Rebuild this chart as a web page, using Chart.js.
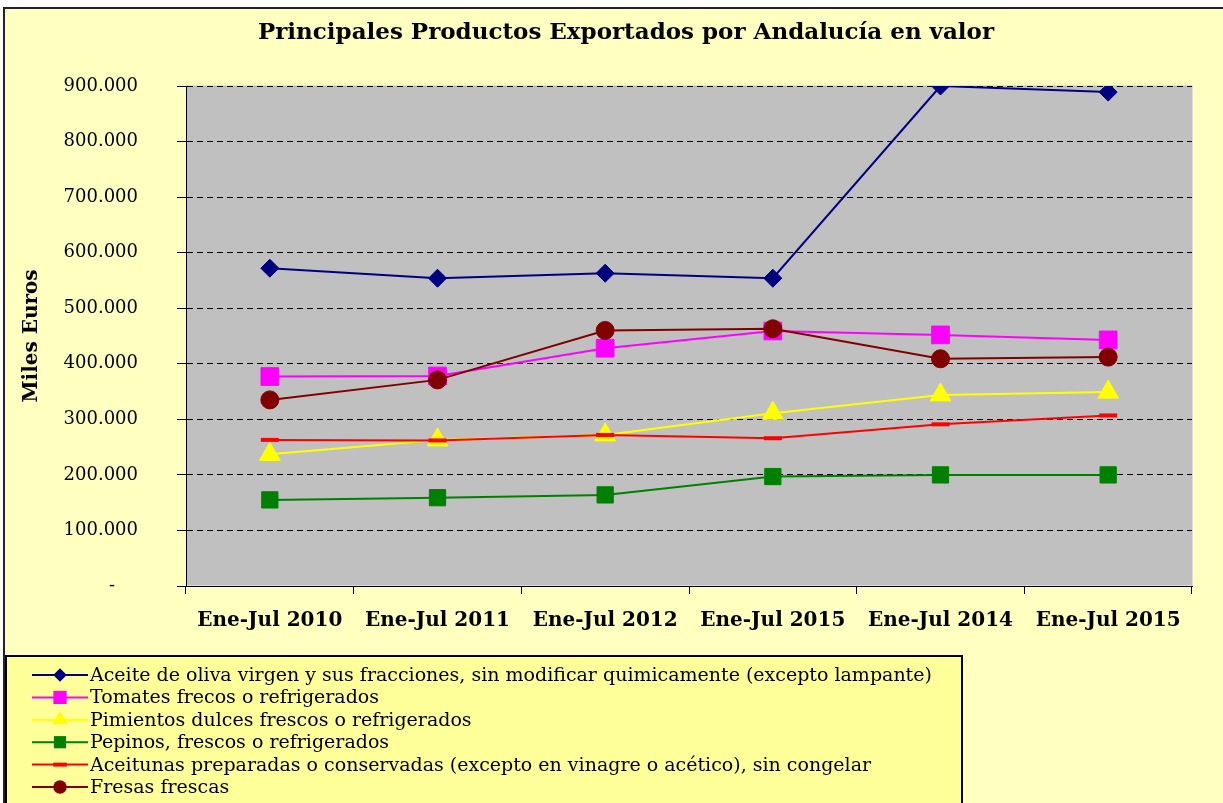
<!DOCTYPE html>
<html>
<head>
<meta charset="utf-8">
<script src="https://cdn.jsdelivr.net/npm/chart.js@4/dist/chart.umd.min.js"></script>
<style>
  body { margin: 0; background: #ffffff; }
  #wrap { width: 1223px; height: 803px; position: relative; }
</style>
</head>
<body>
<div id="wrap"><canvas id="chart"></canvas></div>
<script>
var titleText = "Principales Productos Exportados por Andalucía en valor";
var yTitle = "Miles Euros";
var categories = ["Ene-Jul 2010", "Ene-Jul 2011", "Ene-Jul 2012", "Ene-Jul 2015", "Ene-Jul 2014", "Ene-Jul 2015"];

var seriesNames = [
  "Aceite de oliva virgen y sus fracciones, sin modificar quimicamente (excepto lampante)",
  "Tomates frecos o refrigerados",
  "Pimientos dulces frescos o refrigerados",
  "Pepinos, frescos o refrigerados",
  "Aceitunas preparadas o conservadas (excepto en vinagre o acético), sin congelar",
  "Fresas frescas"
];
var aceite = [572000, 554000, 563000, 554000, 900000, 889000];
var tomates = [377000, 378000, 428000, 459000, 452000, 443000];
var pimientos = [237000, 263000, 272000, 311000, 344000, 349000];
var pepinos = [155000, 159000, 164000, 197000, 200000, 200000];
var aceitunas = [263000, 262000, 272000, 266000, 291000, 307000];
var fresas = [335000, 371000, 460000, 463000, 409000, 412000];

var seriesColors = ["#000080", "#FF00FF", "#FFFF00", "#008000", "#FF0000", "#800000"];
var seriesStyles = ["rectRot", "rect", "triangle", "rect", "line", "circle"];
var seriesRadius = [9, 12.5, 12, 11.5, 9, 9];
var seriesData = [aceite, tomates, pimientos, pepinos, aceitunas, fresas];

var serifFont = "'DejaVu Serif', 'Liberation Serif', serif";

function fmt(v) {
  if (v === 0) return "-    ";
  return String(v).replace(/\B(?=(\d{3})+(?!\d))/g, ".");
}

function drawMarker(ctx, style, x, y, r, color, bw) {
  ctx.save();
  ctx.fillStyle = color;
  ctx.strokeStyle = color;
  ctx.lineWidth = bw;
  ctx.beginPath();
  if (style === "rectRot") {
    ctx.moveTo(x - r, y); ctx.lineTo(x, y - r); ctx.lineTo(x + r, y); ctx.lineTo(x, y + r);
    ctx.closePath(); ctx.fill();
  } else if (style === "rect") {
    var s = r * Math.SQRT1_2;
    ctx.rect(x - s, y - s, 2 * s, 2 * s); ctx.fill();
  } else if (style === "triangle") {
    ctx.moveTo(x, y - r); ctx.lineTo(x + r * 0.866, y + r / 2); ctx.lineTo(x - r * 0.866, y + r / 2);
    ctx.closePath(); ctx.fill();
  } else if (style === "circle") {
    ctx.arc(x, y, r, 0, Math.PI * 2); ctx.fill();
  } else if (style === "line") {
    ctx.moveTo(x - r, y); ctx.lineTo(x + r, y); ctx.stroke();
  }
  ctx.restore();
}

var backgroundPlugin = {
  id: "bg",
  beforeDraw: function (chart) {
    var ctx = chart.ctx;
    var a = chart.chartArea;
    ctx.save();
    ctx.fillStyle = "#ffffff";
    ctx.fillRect(0, 0, chart.width, chart.height);
    ctx.fillStyle = "#FFFFC0";
    ctx.fillRect(4, 8, chart.width, chart.height);
    ctx.strokeStyle = "#222222";
    ctx.lineWidth = 2;
    ctx.beginPath();
    ctx.moveTo(4, chart.height);
    ctx.lineTo(4, 8);
    ctx.lineTo(chart.width, 8);
    ctx.stroke();
    ctx.fillStyle = "#C0C0C0";
    ctx.fillRect(a.left, a.top, a.right - a.left, a.bottom - a.top);
    ctx.strokeStyle = "#dcdcdc";
    ctx.lineWidth = 1;
    ctx.strokeRect(a.left + 0.5, a.top - 0.5, a.right - a.left, a.bottom - a.top);
    // title
    ctx.fillStyle = "#000000";
    ctx.font = "bold 23px " + serifFont;
    ctx.textAlign = "center";
    ctx.textBaseline = "middle";
    ctx.fillText(titleText, 626, 33);
    ctx.restore();
  },
  afterDraw: function (chart) {
    var ctx = chart.ctx;
    ctx.save();
    ctx.fillStyle = "#FFFF99";
    ctx.fillRect(6, 656, 956, 160);
    ctx.strokeStyle = "#000000";
    ctx.lineWidth = 2;
    ctx.strokeRect(6, 656, 956, 160);
    ctx.font = "19px " + serifFont;
    ctx.textAlign = "left";
    ctx.textBaseline = "middle";
    for (var i = 0; i < seriesNames.length; i++) {
      var y = 675 + i * 22.4;
      ctx.strokeStyle = seriesColors[i];
      ctx.lineWidth = 2;
      ctx.beginPath();
      ctx.moveTo(32, y);
      ctx.lineTo(88, y);
      ctx.stroke();
      drawMarker(ctx, seriesStyles[i], 60, y, seriesRadius[i] * 0.75, seriesColors[i], 4);
      ctx.fillStyle = "#000000";
      ctx.fillText(seriesNames[i], 90, y + 1);
    }
    ctx.restore();
  }
};

var datasets = seriesNames.map(function (name, i) {
  return {
    label: name,
    data: seriesData[i],
    borderColor: seriesColors[i],
    backgroundColor: seriesColors[i],
    borderWidth: 2,
    pointStyle: seriesStyles[i],
    pointRadius: seriesRadius[i],
    pointHoverRadius: seriesRadius[i],
    pointBorderWidth: seriesStyles[i] === "line" ? 4 : 1,
    pointBackgroundColor: seriesColors[i],
    pointBorderColor: seriesColors[i],
    tension: 0,
    order: seriesNames.length - i
  };
});

new Chart(document.getElementById("chart"), {
  type: "line",
  data: { labels: categories, datasets: datasets },
  plugins: [backgroundPlugin],
  options: {
    responsive: true,
    maintainAspectRatio: false,
    animation: false,
    layout: { padding: { top: 86, left: 0, right: 31, bottom: 0 } },
    plugins: {
      legend: { display: false },
      title: { display: false },
      tooltip: { enabled: false }
    },
    scales: {
      x: {
        offset: true,
        afterFit: function (scale) { scale.height = 217; },
        grid: {
          offset: true,
          drawOnChartArea: false,
          drawTicks: true,
          tickLength: 8,
          tickColor: "#000000",
          tickWidth: 1
        },
        border: { color: "#000000", width: 1 },
        ticks: {
          color: "#000000",
          padding: 15,
          maxRotation: 0,
          font: { family: serifFont, size: 20, weight: "bold" }
        }
      },
      y: {
        min: 0,
        max: 900000,
        afterFit: function (scale) { scale.width = 186; },
        grid: {
          color: "#000000",
          lineWidth: 1,
          tickLength: 9,
          tickColor: "#000000",
          tickBorderDash: [],
          tickWidth: 1
        },
        border: { color: "#000000", width: 1, dash: [6, 4] },
        ticks: {
          stepSize: 100000,
          color: "#000000",
          padding: 39,
          font: { family: serifFont, size: 18 },
          callback: function (v) { return fmt(v); }
        },
        title: {
          display: true,
          text: yTitle,
          color: "#000000",
          padding: { top: 20, bottom: 0 },
          font: { family: serifFont, size: 20, weight: "bold" }
        }
      }
    }
  }
});
</script>
</body>
</html>
